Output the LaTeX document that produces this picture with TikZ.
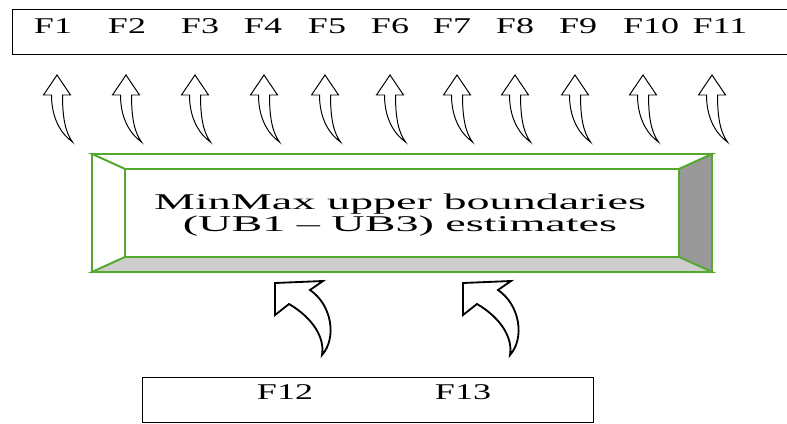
\documentclass[tikz,border=0pt]{standalone}
\usepackage{fontspec}
\setmainfont{Liberation Serif}
\usepackage{graphicx}
\usetikzlibrary{positioning,calc}
\definecolor{bevgreen}{RGB}{84,168,46}
\definecolor{bevdark}{RGB}{153,153,153}
\definecolor{bevlight}{RGB}{206,206,206}
\newcommand{\wtxt}[1]{\scalebox{1.6}[1]{#1}}
\newcommand{\mtxt}[1]{\scalebox{2.05}[1]{#1}}
\tikzset{
  flabel/.style={font=\fontsize{16}{16}\selectfont,inner sep=0pt},
  frame/.style={draw,line width=0.8pt,minimum height=1.125cm,anchor=north west,inner sep=0pt},
  face/.style={draw=bevgreen,line width=1.3pt,line join=miter},
  uparrow/.pic={
    \draw[line width=0.7pt,fill=white] (0,0) -- (13.5,-20) -- (5.5,-20)
      .. controls (5.5,-45) and (9,-58) .. (15.5,-67)
      .. controls (3,-58) and (-5.5,-42) .. (-5.5,-20) -- (-13.5,-20) -- cycle;
  },
  bentarrow/.pic={
    \draw[line width=1.3pt,fill=white,line join=miter] (0,0) -- (48,2) -- (35,-7)
      .. controls (57,-22) and (62,-55) .. (47,-72)
      .. controls (50,-55) and (38,-35) .. (14,-21) -- (0,-32) -- cycle;
  }
}
\begin{document}
\begin{tikzpicture}[x=0.025cm,y=0.025cm]
\useasboundingbox (0,0) rectangle (787,423);
\clip (0,0) rectangle (787,423);
% top row of outputs
\node[frame,minimum width=19.7cm] (topbox) at (12,414) {};
\foreach \x [count=\i] in {53,127,200,263,327,390,452,515,578,651,720}
  \node[flabel] (f\i) at (\x,397) {\wtxt{F\i}};
\foreach \x in {57,126,195,264,325,390,457,515,575,643,712}
  \pic at (\x,348) {uparrow};
% bevelled box
\fill[white] (92,151) rectangle (712,269);
\draw[face,fill=white] (92,269) -- (712,269) -- (679,254) -- (125,254) -- cycle;
\draw[face,fill=white] (92,151) -- (92,269) -- (125,254) -- (125,166) -- cycle;
\draw[face,fill=bevdark] (712,269) -- (712,151) -- (679,166) -- (679,254) -- cycle;
\draw[face,fill=bevlight] (92,151) -- (712,151) -- (679,166) -- (125,166) -- cycle;
\draw[face,fill=white] (125,166) rectangle (679,254);
\node[flabel,align=center] (ub) at (400,208)
  {\mtxt{MinMax upper boundaries}\\\mtxt{(UB1 -- UB3) estimates}};
% inputs
\pic at (275,140) {bentarrow};
\pic at (463,140) {bentarrow};
\node[frame,minimum width=11.275cm] (botbox) at (142,46) {};
\node[flabel] (f12) at (285,31) {\wtxt{F12}};
\node[flabel] (f13) at (463,31) {\wtxt{F13}};
\end{tikzpicture}
\end{document}
